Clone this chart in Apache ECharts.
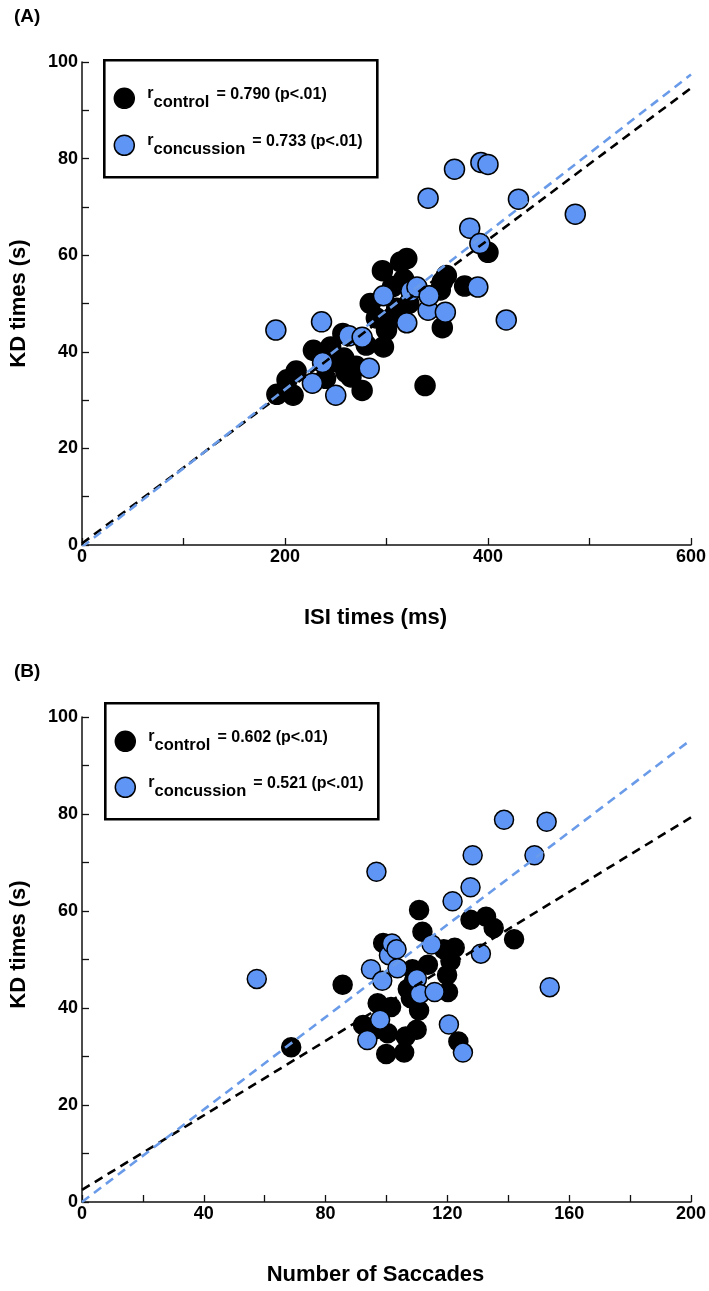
<!DOCTYPE html>
<html><head><meta charset="utf-8">
<script src="https://cdn.jsdelivr.net/npm/echarts@6/dist/echarts.min.js"></script>
<style>html,body{margin:0;padding:0;background:#fff}#c{width:709px;height:1291px}</style>
</head><body><div id="c"></div>
<script>
const FONT = '"Liberation Sans", Arial, Helvetica, sans-serif';

// ---------- Panel A : ISI times (ms) vs KD times (s) ----------
const isiControl = [
  [192,31.2],[208,31],[202,34.2],[211,36],[228,40.3],[240,34.5],[245,41],[250,38],
  [257,43.8],[258,38.7],[260,35.8],[265,34.8],[270,37],[276,32],[280,41.4],[284,50],
  [290,47],[296,56.8],[297,41],[300,44.5],[305,47],[306,53.5],[310,49],[314,58.6],
  [317,55],[320,59.3],[322,50],[338,33],[353,52.8],[355,45],[355,54.5],[359,55.8],
  [377,53.6],[400,60.6]
];
const isiConcussion = [
  [191,44.5],[236,46.2],[227,33.5],[237,37.8],[250,31],[263,43.3],[276,43],[283,36.6],
  [297,51.6],[320,46],[324,52.6],[330,53.4],[341,48.6],[341,71.8],[342,51.6],[358,48.2],
  [367,77.8],[382,65.6],[390,53.4],[392,62.4],[393,79.2],[400,78.8],[418,46.6],[430,71.6],
  [486,68.5]
];
const fitA_control = [[0,0.3],[600,94.6]];
const fitA_concussion = [[0,-0.4],[600,97.4]];
const legendA = ['= 0.790 (p<.01)', '= 0.733 (p<.01)'];

// ---------- Panel B : Number of Saccades vs KD times (s) ----------
const saccControl = [
  [68.7,31.9],[85.6,44.8],[92.3,36.5],[96,35.5],[97.1,41],[98.9,53.4],[99.9,30.5],[100.4,34.8],
  [101.5,40.2],[105.8,30.8],[106.3,34.1],[107,43.9],[108,42],[108.5,48],[109,45.5],[109.9,35.5],
  [110.7,39.5],[110.7,60.2],[111.8,55.7],[113.6,48.9],[118.8,52.1],[119.9,46.8],[120.2,43.3],
  [121,49.7],[122.4,52.4],[123.6,33.1],[127.6,58.2],[132.7,58.8],[135.2,56.5],[141.9,54.2]
];
const saccConcussion = [
  [57.4,46],[93.7,33.4],[94.9,48],[96.7,68.1],[97.9,37.6],[98.6,45.6],[100.8,50.9],[101.8,53.3],
  [103.3,52.1],[103.6,48.2],[110,46],[111,42.9],[114.8,53.1],[115.8,43.3],[120.5,36.6],[121.7,62],
  [125.1,30.8],[127.6,64.9],[128.3,71.5],[131,51.2],[138.6,78.8],[148.6,71.5],[152.6,78.4],[153.6,44.3]
];
const fitB_control = [[0,2.5],[200,79.3]];
const fitB_concussion = [[0,0],[200,95.3]];
const legendB = ['= 0.602 (p<.01)', '= 0.521 (p<.01)'];

const BLUE = '#5f95f5';
const BLUE_LINE = '#6a9be9';

function xAx(grid, min, max, interval, labelEvery, name) {
  return {
    type: 'value', gridIndex: grid, min, max, interval,
    splitLine: {show: false},
    axisLine: {onZero: false, lineStyle: {color: '#111', width: 1.5}},
    axisTick: {inside: true, length: 7, lineStyle: {color: '#111', width: 1.3}},
    axisLabel: {margin: 3, color: '#000', fontFamily: FONT, fontWeight: 'bold', fontSize: 18,
      formatter: v => (v % labelEvery === 0 ? String(v) : '')},
    name, nameLocation: 'middle', nameGap: 62,
    nameTextStyle: {color: '#000', fontFamily: FONT, fontWeight: 'bold', fontSize: 22, padding: [0, 22, 0, 0]}
  };
}
function yAx(grid, shiftUp) {
  return {
    type: 'value', gridIndex: grid, min: 0, max: 100, interval: 10,
    splitLine: {show: false},
    axisLine: {onZero: false, lineStyle: {color: '#111', width: 1.5}},
    axisTick: {inside: true, length: 7, lineStyle: {color: '#111', width: 1.3}},
    axisLabel: {margin: 4, color: '#000', fontFamily: FONT, fontWeight: 'bold', fontSize: 18,
      formatter: v => (v % 20 === 0 ? String(v) : '')},
    name: 'KD times (s)', nameLocation: 'middle', nameGap: 52,
    nameTextStyle: {color: '#000', fontFamily: FONT, fontWeight: 'bold', fontSize: 22, padding: [0, 0, 0, shiftUp]}
  };
}
function scat(grid, data, color, size) {
  return {type: 'scatter', xAxisIndex: grid, yAxisIndex: grid, data, symbolSize: size,
    itemStyle: {color, borderColor: '#000', borderWidth: 1.5, opacity: 1},
    emphasis: {disabled: true}, animation: false};
}
function fit(grid, data, color) {
  return {type: 'line', xAxisIndex: grid, yAxisIndex: grid, data, symbol: 'none',
    lineStyle: {color, width: 2.6, type: [9, 6]}, animation: false, z: 3};
}
function legendGroup(x, y, h, gap, texts) {
  const rich = {
    r: {fontFamily: FONT, fontWeight: 'bold', fontSize: 16, fill: '#000', verticalAlign: 'top', lineHeight: 26},
    s: {fontFamily: FONT, fontWeight: 'bold', fontSize: 16.5, fill: '#000', verticalAlign: 'bottom', lineHeight: 26},
    e: {fontFamily: FONT, fontWeight: 'bold', fontSize: 16, fill: '#000', verticalAlign: 'top', lineHeight: 26, padding: [1, 0, 0, 7]}
  };
  return {type: 'group', left: x, top: y, children: [
    {type: 'rect', shape: {x: 0, y: 0, width: 273, height: h}, style: {fill: '#fff', stroke: '#000', lineWidth: 2.6}},
    {type: 'circle', shape: {cx: 20, cy: 38, r: 10}, style: {fill: '#000', stroke: '#000', lineWidth: 1.5}},
    {type: 'circle', shape: {cx: 20, cy: 38 + gap, r: 10}, style: {fill: BLUE, stroke: '#000', lineWidth: 1.5}},
    {type: 'text', x: 43, y: 38, style: {text: '{r|r}{s|control}{e|' + texts[0] + '}', rich, verticalAlign: 'middle'}},
    {type: 'text', x: 43, y: 38 + gap, style: {text: '{r|r}{s|concussion}{e|' + texts[1] + '}', rich, verticalAlign: 'middle'}}
  ]};
}

const chart = echarts.init(document.getElementById('c'), null, {renderer: 'canvas'});
chart.setOption({
  backgroundColor: '#fff',
  animation: false,
  grid: [
    {left: 80, top: 62, width: 615, height: 483},
    {left: 80, top: 717, width: 615, height: 485}
  ],
  xAxis: [xAx(0, 0, 600, 100, 200, 'ISI times (ms)'), xAx(1, 0, 200, 20, 40, 'Number of Saccades')],
  yAxis: [yAx(0, 0), yAx(1, 30)],
  series: [
    scat(0, isiControl, '#000', 20),
    fit(0, fitA_control, '#000'),
    fit(0, fitA_concussion, BLUE_LINE),
    scat(0, isiConcussion, BLUE, 20),
    scat(1, saccControl, '#000', 19),
    fit(1, fitB_control, '#000'),
    fit(1, fitB_concussion, BLUE_LINE),
    scat(1, saccConcussion, BLUE, 19)
  ],
  graphic: [
    {type: 'text', left: 14, top: 7, style: {text: '(A)', fontFamily: FONT, fontWeight: 'bold', fontSize: 19, fill: '#000'}},
    {type: 'text', left: 14, top: 662, style: {text: '(B)', fontFamily: FONT, fontWeight: 'bold', fontSize: 19, fill: '#000'}},
    legendGroup(103, 59, 117, 47, legendA),
    legendGroup(104, 702, 116, 46, legendB)
  ]
});
</script>
</body></html>
